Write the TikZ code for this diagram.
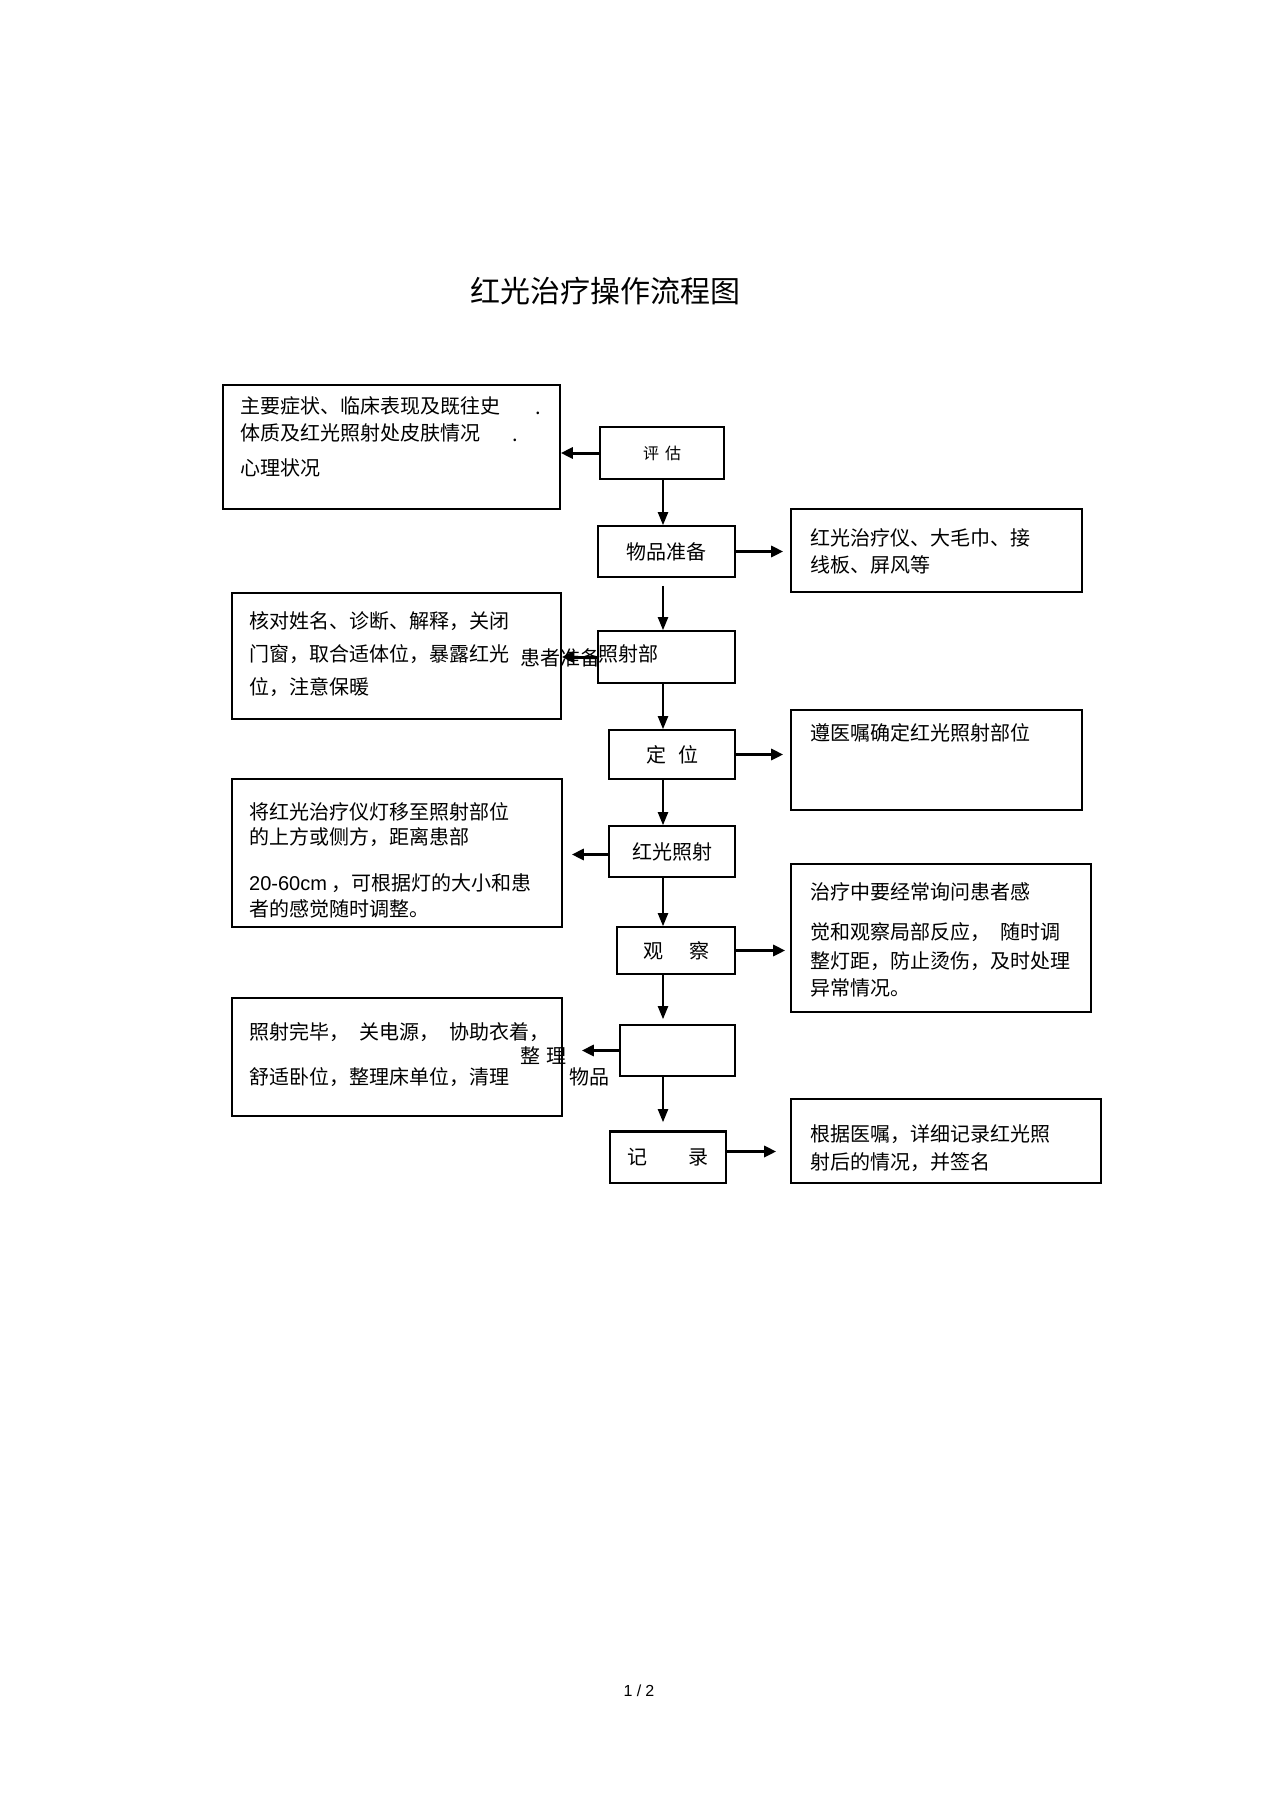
\documentclass[tikz,border=0pt]{standalone}
\usepackage{fontspec}
\setmainfont{Noto Sans CJK SC}
\newfontfamily\latinfont{Liberation Sans}
\usetikzlibrary{arrows.meta}

\begin{document}
\begin{tikzpicture}[x=1pt,y=-1pt,
	box/.style={draw,line width=1.6pt,inner sep=0pt,font=\fontsize{20}{24}\selectfont},
	txt/.style={inner sep=0pt,font=\fontsize{20}{24}\selectfont},
	link/.style={line width=2pt,-{Triangle[length=13pt,width=10pt]}},
	side/.style={line width=3pt,-{Triangle[length=12pt,width=11pt]}}]
	\useasboundingbox[fill=white] (0,0) rectangle (1274,1804);
	\node[txt,font=\fontsize{30}{34}\selectfont] (title) at (605,291) {红光治疗操作流程图};
	\coordinate (axis) at (663,0);
	% central steps
	\node[box,minimum width=124,minimum height=52,font=\fontsize{16}{20}\selectfont] (pinggu) at (662,453) {评\hspace{6pt}估};
	\node[box,minimum width=137,minimum height=51] (wupin) at (666.5,551.5) {物品准备};
	\node[box,minimum width=137,minimum height=52] (huanzhe) at (666.5,657) {};
	\node[box,minimum width=126,minimum height=49] (dingwei) at (672,754.5) {定\hspace{12pt}位};
	\node[box,minimum width=126,minimum height=51] (zhaoshe) at (672,851.5) {红光照射};
	\node[box,minimum width=118,minimum height=47] (guancha) at (676,950.5) {观\hspace{26pt}察};
	\node[box,minimum width=115,minimum height=51] (zhengli) at (677.5,1050.5) {};
	\node[box,minimum width=116,minimum height=51] (jilu) at (668,1157.5) {记\hspace{41pt}录};
	\node[txt] at (598,654) [right] (hzlabel) {照射部};
	\node[txt] at (520,658) [right] (hzname) {患者准备};
	\node[txt] at (520,1056) [right] (zlname) {整\hspace{6pt}理};
	\node[txt] at (569,1077) [right] (zlitem) {物品};
	% side boxes
	\node[box,minimum width=337,minimum height=124] (pgbox) at (391.5,447) {};
	\node[box,minimum width=291,minimum height=83] (wpbox) at (936.5,550.5) {};
	\node[box,minimum width=329,minimum height=126] (hzbox) at (396.5,656) {};
	\node[box,minimum width=291,minimum height=100] (dwbox) at (936.5,760) {};
	\node[box,minimum width=330,minimum height=148] (zsbox) at (397,853) {};
	\node[box,minimum width=300,minimum height=148] (gcbox) at (941,938) {};
	\node[box,minimum width=330,minimum height=118] (zlbox) at (397,1057) {};
	\node[box,minimum width=310,minimum height=84] (jlbox) at (946,1141) {};
	% texts
	\node[txt] at (240,406) [right] (pg1) {主要症状、临床表现及既往史};
	\node[txt] at (535,413) [right] (pg1d) {.};
	\node[txt] at (240,433) [right] (pg2) {体质及红光照射处皮肤情况};
	\node[txt] at (512,440) [right] (pg2d) {.};
	\node[txt] at (240,468) [right] (pg3) {心理状况};
	\node[txt] at (810,538) [right] (wp1) {红光治疗仪、大毛巾、接};
	\node[txt] at (810,565) [right] (wp2) {线板、屏风等};
	\node[txt] at (249,621) [right] (hz1) {核对姓名、诊断、解释，关闭};
	\node[txt] at (249,654) [right] (hz2) {门窗，取合适体位，暴露红光};
	\node[txt] at (249,687) [right] (hz3) {位，注意保暖};
	\node[txt] at (810,733) [right] (dw1) {遵医嘱确定红光照射部位};
	\node[txt] at (249,812) [right] (zs1) {将红光治疗仪灯移至照射部位};
	\node[txt] at (249,837) [right] (zs2) {的上方或侧方，距离患部};
	\node[txt] at (249,883) [right] (zs3) {{\latinfont 20-60cm} ，可根据灯的大小和患};
	\node[txt] at (249,909) [right] (zs4) {者的感觉随时调整。};
	\node[txt] at (810,892) [right] (gc1) {治疗中要经常询问患者感};
	\node[txt] at (810,932) [right] (gc2) {觉和观察局部反应，\hspace{10pt}随时调};
	\node[txt] at (810,961) [right] (gc3) {整灯距，防止烫伤，及时处理};
	\node[txt] at (810,988) [right] (gc4) {异常情况。};
	\node[txt] at (249,1032) [right] (zl1) {照射完毕，\hspace{10pt}关电源，\hspace{10pt}协助衣着，};
	\node[txt] at (249,1077) [right] (zl2) {舒适卧位，整理床单位，清理};
	\node[txt] at (810,1134) [right] (jl1) {根据医嘱，详细记录红光照};
	\node[txt] at (810,1162) [right] (jl2) {射后的情况，并签名};
	\node[txt,font=\fontsize{16}{20}\latinfont] at (639,1691) (page) {1 /\hspace{4pt}2};
	% arrows
	\draw[link] (axis |- pinggu.south) -- (axis |- wupin.north);
	\draw[link,shorten <=8pt] (axis |- wupin.south) -- (axis |- huanzhe.north);
	\draw[link] (axis |- huanzhe.south) -- (axis |- dingwei.north);
	\draw[link] (axis |- dingwei.south) -- (axis |- zhaoshe.north);
	\draw[link] (axis |- zhaoshe.south) -- (axis |- guancha.north);
	\draw[link,shorten >=5pt] (axis |- guancha.south) -- (axis |- zhengli.north);
	\draw[link,shorten >=9pt] (axis |- zhengli.south) -- (axis |- jilu.north);
	\draw[side] (pinggu.west) -- (pgbox.east |- pinggu.west);
	\draw[side,shorten >=7pt] (wupin.east) -- (wpbox.west |- wupin.east);
	\draw[side] (huanzhe.west) -- (hzbox.east |- huanzhe.west);
	\draw[side,shorten >=7pt] (dingwei.east) -- (dwbox.west |- dingwei.east);
	\draw[side,shorten >=9pt] ([yshift=-3pt]zhaoshe.west) -- ([yshift=-3pt]zsbox.east |- zhaoshe.west);
	\draw[side,shorten >=5pt] (guancha.east) -- (gcbox.west |- guancha.east);
	\draw[side,shorten >=19pt] (zhengli.west) -- (zlbox.east |- zhengli.west);
	\draw[side,shorten >=14pt] ([yshift=6pt]jilu.east) -- ([yshift=6pt]jilu.east -| jlbox.west);
	\draw[line width=3pt] (jilu.north west) -- (jilu.north east);
\end{tikzpicture}
\end{document}
